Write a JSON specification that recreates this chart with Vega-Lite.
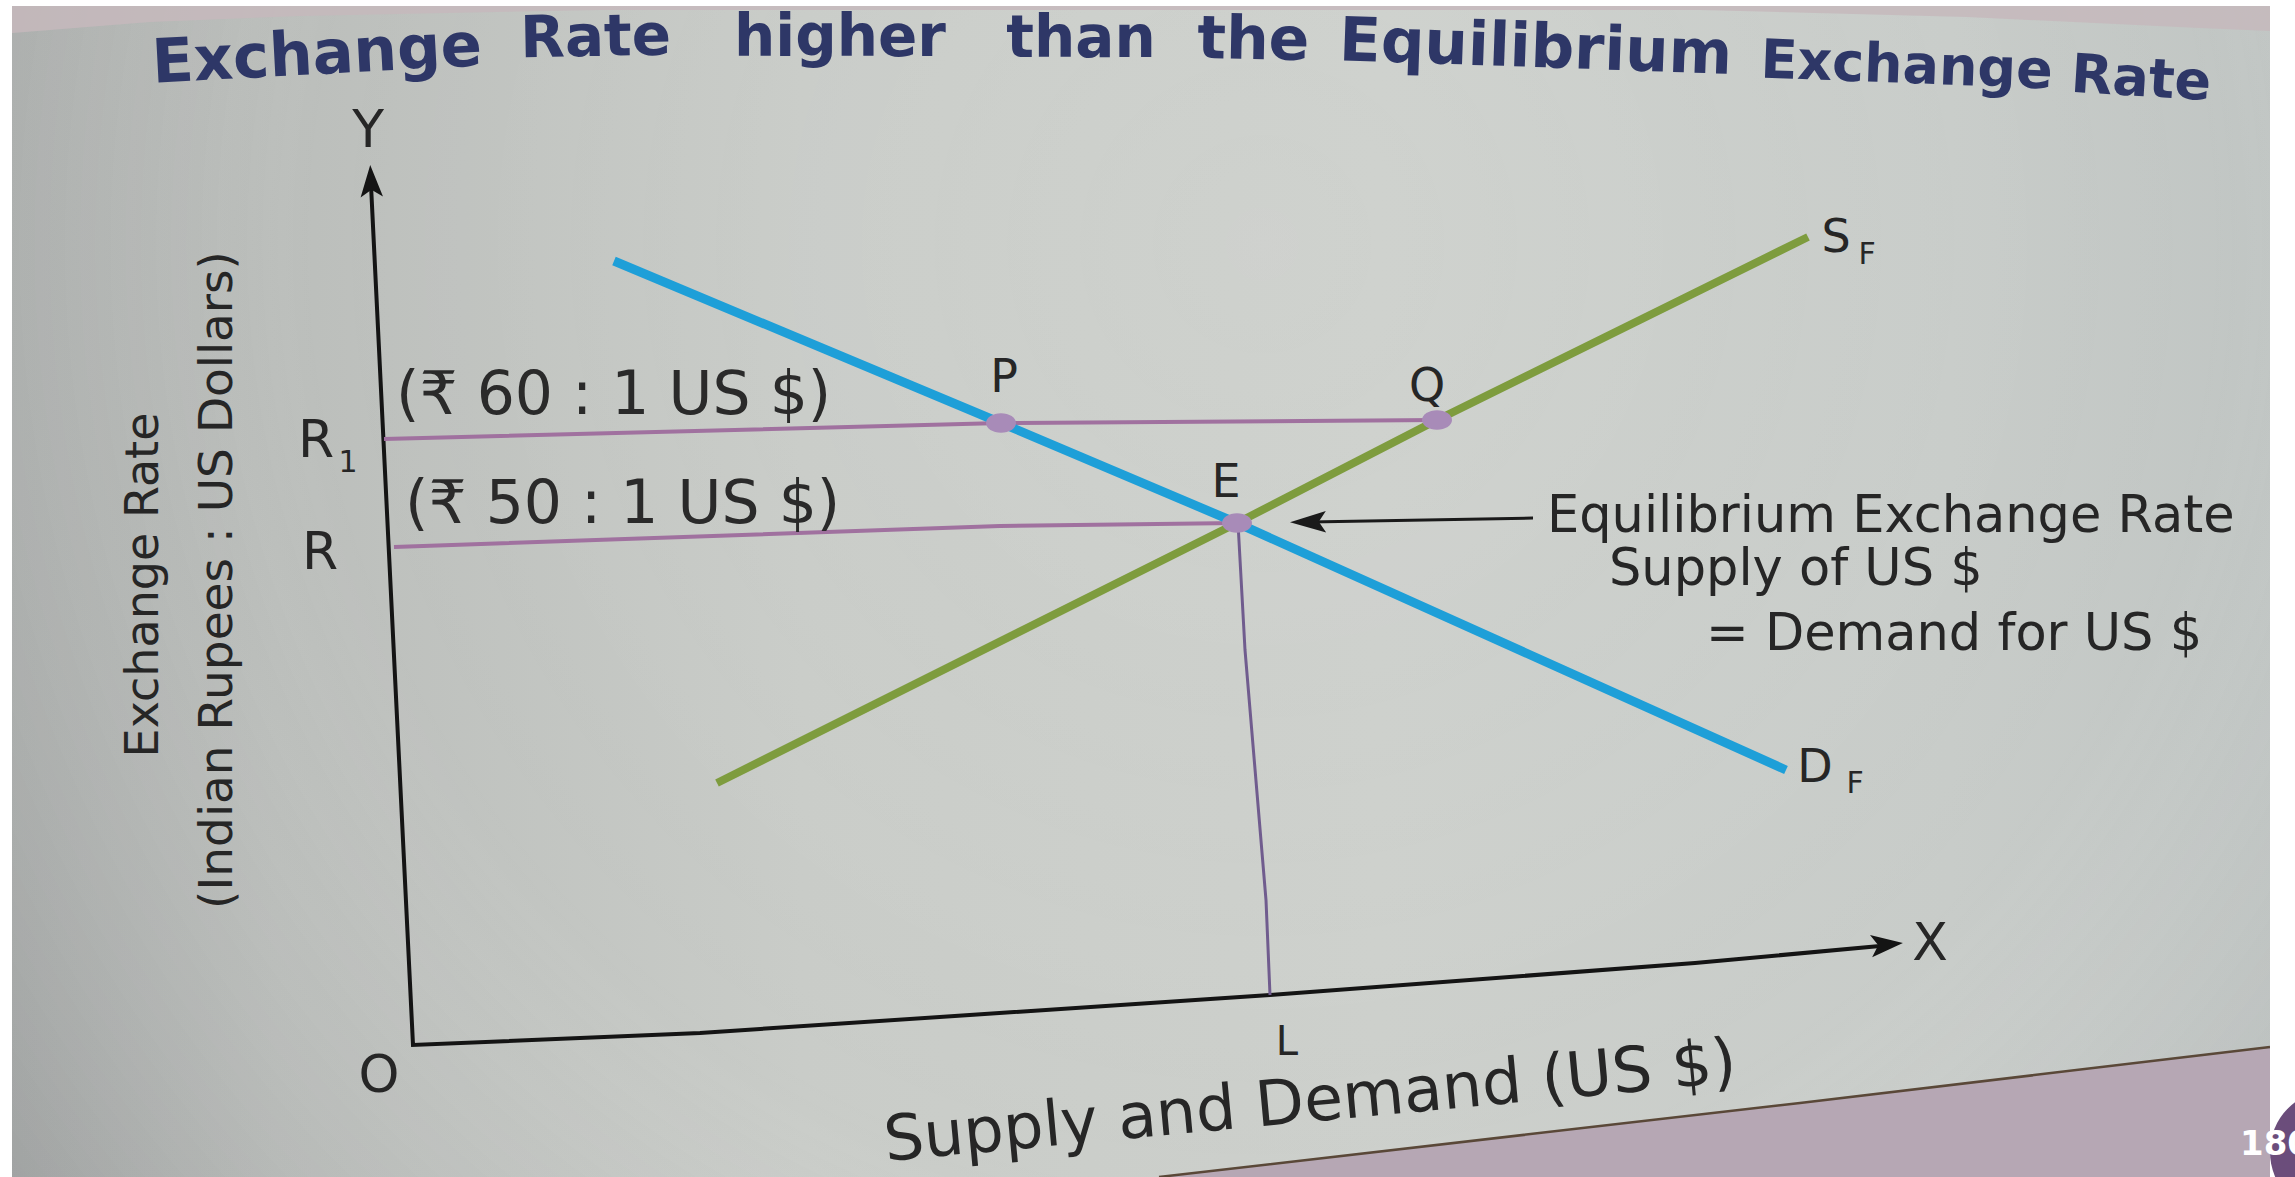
{
  "$schema": "https://vega.github.io/schema/vega-lite/v6.json",
  "description": "Foreign exchange market: demand D_F and supply S_F of US dollars, with the rate R1 held above the equilibrium rate R.",
  "width": 2295,
  "height": 1177,
  "autosize": {"type": "none"},
  "padding": 0,
  "background": "#ffffff",
  "config": {"view": {"stroke": null}, "axis": {"disable": true}},
  "encoding": {
    "x": {"field": "x", "type": "quantitative", "scale": {"domain": [-41.3, 188.2], "nice": false, "zero": false}, "axis": null},
    "y": {"field": "y", "type": "quantitative", "scale": {"domain": [-13.2, 104.5], "nice": false, "zero": false}, "axis": null}
  },
  "layer": [
    {
      "data": {"values": [{"x": -41.3, "x2": 188.2, "y": -13.2, "y2": 104.5}]},
      "mark": {"type": "rect", "fill": {"gradient": "linear", "x1": 0, "y1": 0, "x2": 1, "y2": 0, "stops": [
        {"offset": 0, "color": "#adb0ae"},
        {"offset": 0.12, "color": "#bbbebb"},
        {"offset": 0.35, "color": "#c9ccc8"},
        {"offset": 0.6, "color": "#cdd0cc"},
        {"offset": 0.85, "color": "#c8ccc9"},
        {"offset": 1, "color": "#c0c5c3"}
      ]}},
      "encoding": {"x2": {"field": "x2"}, "y2": {"field": "y2"}}
    },
    {
      "data": {"values": [{"x": -41.3, "x2": 188.2, "y": -13.2, "y2": 104.5}]},
      "mark": {"type": "rect", "fill": {"gradient": "radial", "x1": 0.55, "y1": 0.35, "r1": 0, "x2": 0.55, "y2": 0.35, "r2": 0.75, "stops": [
        {"offset": 0, "color": "rgba(255,255,255,0.05)"},
        {"offset": 0.55, "color": "rgba(255,255,255,0)"},
        {"offset": 1, "color": "rgba(50,50,60,0.2)"}
      ]}},
      "encoding": {"x2": {"field": "x2"}, "y2": {"field": "y2"}}
    },
    {
      "data": {"values": [
        {"x": -41.3, "y": 101.1}, {"x": -26.3, "y": 102.3}, {"x": -11.3, "y": 102.9}, {"x": 18.7, "y": 103.5},
        {"x": 128.7, "y": 103.5}, {"x": 155.4, "y": 102.8}, {"x": 178.7, "y": 101.7}, {"x": 188.2, "y": 101.3}
      ]},
      "mark": {"type": "area", "fill": "#c6b8bc", "opacity": 0.85},
      "encoding": {"y2": {"datum": 104.5}}
    },
    {
      "data": {"values": [{"x": 74.6, "y": -13.2}, {"x": 138.7, "y": -5.8}, {"x": 185.7, "y": -0.2}, {"x": 188.2, "y": 0.1}]},
      "mark": {"type": "area", "fill": "#b6a7b4"},
      "encoding": {"y2": {"datum": -13.2}}
    },
    {
      "data": {"values": [{"x": 74.6, "y": -13.2}, {"x": 138.7, "y": -5.8}, {"x": 185.7, "y": -0.2}]},
      "mark": {"type": "line", "color": "#5a4838", "strokeWidth": 2.5},
      "encoding": {}
    },
    {
      "data": {"values": [
        {"x": -41.3, "x2": -40.1, "y": -13.2, "y2": 104.5},
        {"x": -41.3, "x2": 188.2, "y": 103.9, "y2": 104.5},
        {"x": 185.7, "x2": 188.2, "y": -13.2, "y2": 104.5}
      ]},
      "mark": {"type": "rect", "fill": "#ffffff"},
      "encoding": {"x2": {"field": "x2"}, "y2": {"field": "y2"}}
    },
    {
      "data": {"values": [{"x": 191.9, "y": -10.7}]},
      "mark": {"type": "point", "shape": "circle", "filled": true, "size": 15376, "fill": "#6b4d7b", "opacity": 1},
      "encoding": {}
    },
    {
      "data": {"values": [{"x": 182.7, "y": -11.0, "t": "180"}]},
      "mark": {"type": "text", "font": "DejaVu Sans", "fontWeight": "bold", "fontSize": 34, "align": "left", "baseline": "alphabetic", "color": "#ffffff"},
      "encoding": {"text": {"field": "t"}}
    },
    {
      "data": {"values": [
        {"k": 0, "x": -4.2, "y": 86.0},
        {"k": 1, "x": 0, "y": 0},
        {"k": 2, "x": 28.7, "y": 1.2},
        {"k": 3, "x": 85.7, "y": 5.0},
        {"k": 4, "x": 128.2, "y": 8.2},
        {"k": 5, "x": 146.7, "y": 9.9}
      ]},
      "mark": {"type": "line", "color": "#141414", "strokeWidth": 4, "strokeJoin": "miter"},
      "encoding": {"order": {"field": "k"}}
    },
    {
      "data": {"values": [{"x": -4.2, "y": 86.4}]},
      "mark": {"type": "point", "shape": "M0,-1L0.7,1L0,0.55L-0.7,1Z", "size": 1024, "angle": -2.8, "filled": true, "color": "#141414", "opacity": 1},
      "encoding": {}
    },
    {
      "data": {"values": [{"x": 147.4, "y": 10.05}]},
      "mark": {"type": "point", "shape": "M0,-1L0.7,1L0,0.55L-0.7,1Z", "size": 1024, "angle": 84.5, "filled": true, "color": "#141414", "opacity": 1},
      "encoding": {}
    },
    {
      "data": {"values": [
        {"seg": "R1", "x": -2.9, "y": 60.6}, {"seg": "R1", "x": 58.8, "y": 62.2}, {"seg": "R1", "x": 102.4, "y": 62.5},
        {"seg": "R", "x": -1.9, "y": 49.8}, {"seg": "R", "x": 58.7, "y": 51.9}, {"seg": "R", "x": 82.4, "y": 52.2}
      ]},
      "mark": {"type": "line", "color": "#a0719f", "strokeWidth": 4},
      "encoding": {"detail": {"field": "seg"}}
    },
    {
      "data": {"values": [{"x": 82.5, "y": 52.2}, {"x": 83.2, "y": 39.5}, {"x": 85.3, "y": 14.5}, {"x": 85.7, "y": 5.0}]},
      "mark": {"type": "line", "color": "#705c8e", "strokeWidth": 3},
      "encoding": {}
    },
    {
      "data": {"values": [{"x": 20.1, "y": 78.4}, {"x": 58.8, "y": 62.2}, {"x": 82.4, "y": 52.2}, {"x": 137.3, "y": 27.5}]},
      "mark": {"type": "line", "color": "#1e9fd8", "strokeWidth": 9},
      "encoding": {}
    },
    {
      "data": {"values": [{"x": 30.4, "y": 26.2}, {"x": 82.4, "y": 52.2}, {"x": 102.4, "y": 62.5}, {"x": 139.5, "y": 80.8}]},
      "mark": {"type": "line", "color": "#7e9c3e", "strokeWidth": 8},
      "encoding": {}
    },
    {
      "data": {"values": [{"x": 112.0, "y": 52.7}, {"x": 89.7, "y": 52.3}]},
      "mark": {"type": "line", "color": "#1a1a1a", "strokeWidth": 3},
      "encoding": {}
    },
    {
      "data": {"values": [{"x": 89.5, "y": 52.3}]},
      "mark": {"type": "point", "shape": "M0,-1L0.6,1L0,0.6L-0.6,1Z", "size": 1296, "angle": -91, "filled": true, "color": "#1a1a1a", "opacity": 1},
      "encoding": {}
    },
    {
      "data": {"values": [{"x": 58.8, "y": 62.2}, {"x": 102.4, "y": 62.5}, {"x": 82.4, "y": 52.2}]},
      "mark": {"type": "point", "shape": "M-1,0A1,0.65,0,1,0,1,0A1,0.65,0,1,0,-1,0Z", "size": 900, "filled": true, "color": "#a88bb8", "opacity": 1},
      "encoding": {}
    },
    {
      "data": {"values": [
        {"t": "Y", "x": -4.5, "y": 91.4},
        {"t": "X", "x": 151.7, "y": 10.1},
        {"t": "O", "x": -3.4, "y": -3.1},
        {"t": "R", "x": -9.7, "y": 60.4},
        {"t": "R", "x": -9.3, "y": 49.2}
      ]},
      "mark": {"type": "text", "font": "DejaVu Sans", "fontSize": 52, "align": "center", "baseline": "middle", "color": "#262626"},
      "encoding": {"text": {"field": "t"}}
    },
    {
      "data": {"values": [
        {"t": "P", "x": 59.1, "y": 66.7},
        {"t": "Q", "x": 101.4, "y": 65.8},
        {"t": "E", "x": 81.3, "y": 56.2},
        {"t": "S", "x": 142.3, "y": 80.7},
        {"t": "D", "x": 140.2, "y": 27.7}
      ]},
      "mark": {"type": "text", "font": "DejaVu Sans", "fontSize": 46, "align": "center", "baseline": "middle", "color": "#262626"},
      "encoding": {"text": {"field": "t"}}
    },
    {
      "data": {"values": [{"t": "L", "x": 87.4, "y": 0.2}]},
      "mark": {"type": "text", "font": "DejaVu Sans", "fontSize": 40, "align": "center", "baseline": "middle", "color": "#262626"},
      "encoding": {"text": {"field": "t"}}
    },
    {
      "data": {"values": [
        {"t": "1", "x": -6.5, "y": 58.2},
        {"t": "F", "x": 145.4, "y": 79.0},
        {"t": "F", "x": 144.2, "y": 26.1}
      ]},
      "mark": {"type": "text", "font": "DejaVu Sans", "fontSize": 30, "align": "center", "baseline": "middle", "color": "#262626"},
      "encoding": {"text": {"field": "t"}}
    },
    {
      "data": {"values": [
        {"t": "(₹ 60 : 1 US $)", "x": -1.7, "y": 64.9},
        {"t": "(₹ 50 : 1 US $)", "x": -0.8, "y": 54.0}
      ]},
      "mark": {"type": "text", "font": "DejaVu Sans, Noto Sans", "fontSize": 60, "align": "left", "baseline": "middle", "color": "#2a2a2a"},
      "encoding": {"text": {"field": "t"}}
    },
    {
      "data": {"values": [
        {"t": "Equilibrium Exchange Rate", "x": 113.4, "y": 51.3},
        {"t": "Supply of US $", "x": 119.6, "y": 46.0},
        {"t": "= Demand for US $", "x": 129.3, "y": 39.5}
      ]},
      "mark": {"type": "text", "font": "DejaVu Sans", "fontSize": 51, "align": "left", "baseline": "alphabetic", "color": "#262626"},
      "encoding": {"text": {"field": "t"}}
    },
    {
      "data": {"values": [{"t": "Supply and Demand (US $)", "x": 89.9, "y": -7.65}]},
      "mark": {"type": "text", "font": "DejaVu Sans", "fontSize": 63, "angle": -5.3, "align": "center", "baseline": "alphabetic", "color": "#262626"},
      "encoding": {"text": {"field": "t"}}
    },
    {
      "data": {"values": [{"t": "Exchange Rate", "x": -25.5, "y": 46.0}]},
      "mark": {"type": "text", "font": "DejaVu Sans", "fontSize": 46, "angle": 270, "align": "center", "baseline": "alphabetic", "color": "#262626"},
      "encoding": {"text": {"field": "t"}}
    },
    {
      "data": {"values": [{"t": "(Indian Rupees : US Dollars)", "x": -18.1, "y": 46.5}]},
      "mark": {"type": "text", "font": "DejaVu Sans", "fontSize": 47, "angle": 270, "align": "center", "baseline": "alphabetic", "color": "#262626"},
      "encoding": {"text": {"field": "t"}}
    },
    {
      "data": {"values": [{"t": "Exchange", "x": -9.5, "y": 97.1}]},
      "mark": {"type": "text", "font": "DejaVu Sans", "fontWeight": "bold", "fontSize": 61, "angle": -3, "align": "center", "baseline": "alphabetic", "color": "#2e3767"},
      "encoding": {"text": {"field": "t"}}
    },
    {
      "data": {"values": [{"t": "Rate", "x": 18.3, "y": 98.9}]},
      "mark": {"type": "text", "font": "DejaVu Sans", "fontWeight": "bold", "fontSize": 58, "angle": -1, "align": "center", "baseline": "alphabetic", "color": "#2e3767"},
      "encoding": {"text": {"field": "t"}}
    },
    {
      "data": {"values": [{"t": "higher", "x": 42.7, "y": 98.9}, {"t": "than", "x": 66.8, "y": 98.8}]},
      "mark": {"type": "text", "font": "DejaVu Sans", "fontWeight": "bold", "fontSize": 58, "angle": 0, "align": "center", "baseline": "alphabetic", "color": "#2e3767"},
      "encoding": {"text": {"field": "t"}}
    },
    {
      "data": {"values": [{"t": "the", "x": 84.0, "y": 98.6}]},
      "mark": {"type": "text", "font": "DejaVu Sans", "fontWeight": "bold", "fontSize": 60, "angle": 1, "align": "center", "baseline": "alphabetic", "color": "#2e3767"},
      "encoding": {"text": {"field": "t"}}
    },
    {
      "data": {"values": [{"t": "Equilibrium", "x": 112.2, "y": 97.8}]},
      "mark": {"type": "text", "font": "DejaVu Sans", "fontWeight": "bold", "fontSize": 61, "angle": 2, "align": "center", "baseline": "alphabetic", "color": "#2e3767"},
      "encoding": {"text": {"field": "t"}}
    },
    {
      "data": {"values": [{"t": "Exchange", "x": 149.3, "y": 96.2}]},
      "mark": {"type": "text", "font": "DejaVu Sans", "fontWeight": "bold", "fontSize": 54, "angle": 2.2, "align": "center", "baseline": "alphabetic", "color": "#2e3767"},
      "encoding": {"text": {"field": "t"}}
    },
    {
      "data": {"values": [{"t": "Rate", "x": 172.7, "y": 94.9}]},
      "mark": {"type": "text", "font": "DejaVu Sans", "fontWeight": "bold", "fontSize": 54, "angle": 3.5, "align": "center", "baseline": "alphabetic", "color": "#2e3767"},
      "encoding": {"text": {"field": "t"}}
    }
  ]
}
